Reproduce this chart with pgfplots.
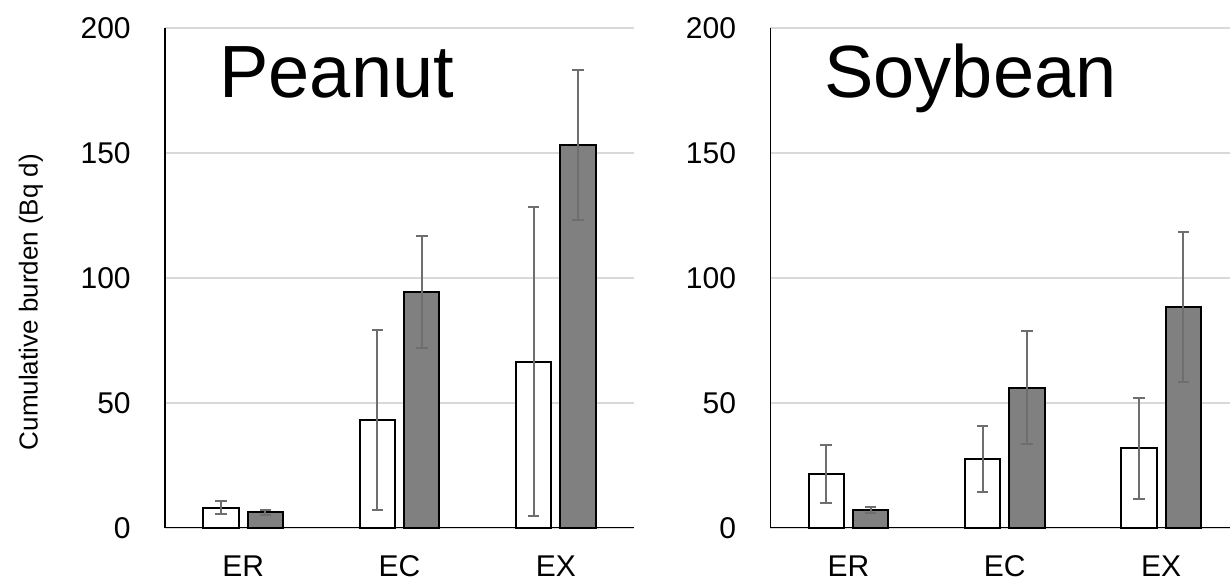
\documentclass[border=0pt]{standalone}
\usepackage{fontspec}
\setmainfont{Liberation Sans}
\usepackage{pgfplots}
\usepackage{pgfplotstable}
\pgfplotsset{compat=1.18}
\definecolor{barg}{HTML}{808080}
\definecolor{errg}{HTML}{6E6E6E}
\definecolor{gridg}{HTML}{D9D9D9}

\pgfplotstableread{
x y e
0 8.0 2.6
1 43.1 36.0
2 66.4 61.8
}\peanutA
\pgfplotstableread{
x y e
0 6.1 1.1
1 94.4 22.4
2 153.1 30.0
}\peanutB
\pgfplotstableread{
x y e
0 21.4 11.7
1 27.6 13.2
2 31.8 20.2
}\soyA
\pgfplotstableread{
x y e
0 7.1 1.2
1 56.0 22.5
2 88.4 30.0
}\soyB

\pgfplotsset{
  panel/.style={
    scale only axis, width=234.5pt, height=250pt,
    ymin=0, ymax=200, xmin=-0.5, xmax=2.5,
    ytick={0,50,100,150,200}, xtick={0,1,2}, xticklabels={ER,EC,EX},
    axis lines=left, axis line style={-, line width=0.75pt, black},
    major tick length=0pt,
    ymajorgrids, grid style={gridg, line width=1pt},
    tick label style={font=\fontsize{15}{18}\selectfont},
    /pgf/number format/assume math mode=true,
    yticklabel style={xshift=-13.65pt},
    xticklabel style={anchor=base, yshift=-24.6pt},
    ybar, bar width=17.75pt,
    clip=false,
    anchor=south west,
  },
  wbar/.style={fill=white, draw=black, line width=1pt, bar shift=-11.1pt,
    error bars/.cd, y dir=both, y explicit,
    error bar style={errg, line width=1pt},
    error mark options={errg, line width=1pt, mark size=2.9pt, rotate=90}},
  gbar/.style={fill=barg, draw=black, line width=1pt, bar shift=11.1pt,
    error bars/.cd, y dir=both, y explicit,
    error bar style={errg, line width=1pt},
    error mark options={errg, line width=1pt, mark size=2.9pt, rotate=90}},
}

\begin{document}
\begin{tikzpicture}
\begin{axis}[panel, at={(82.5pt,27.65pt)}]
\addplot[wbar] table[x=x, y=y, y error=e] {\peanutA};
\addplot[gbar] table[x=x, y=y, y error=e] {\peanutB};
\end{axis}
\begin{axis}[panel, at={(385.15pt,27.65pt)}]
\addplot[wbar] table[x=x, y=y, y error=e] {\soyA};
\addplot[gbar] table[x=x, y=y, y error=e] {\soyB};
\end{axis}
\node[anchor=base west, font=\fontsize{37}{41}\selectfont, inner sep=0pt] at (109.5pt,242.5pt) {Peanut};
\node[anchor=base west, font=\fontsize{37}{41}\selectfont, inner sep=0pt] at (412pt,242.5pt) {Soybean};
\node[rotate=90, font=\fontsize{13}{15}\selectfont, inner sep=0pt] at (15.5pt,140.5pt) {Cumulative burden (Bq d)};
\pgfresetboundingbox
\path (0,0) rectangle (615pt,291.5pt);
\end{tikzpicture}
\end{document}
